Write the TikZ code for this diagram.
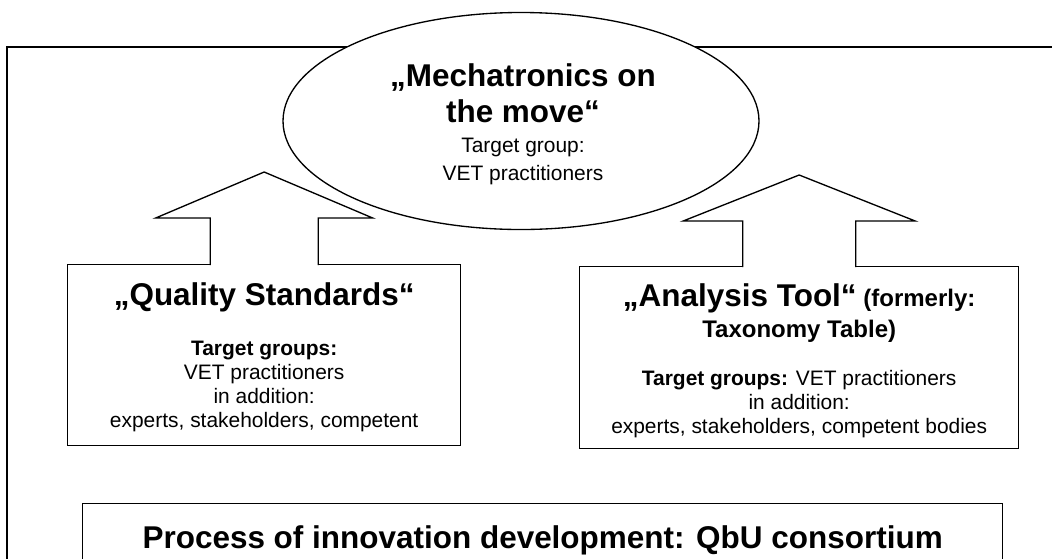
\documentclass[tikz,border=0pt]{standalone}
\usepackage{fontspec}
\setmainfont{Liberation Sans}
\usetikzlibrary{shapes.geometric,calc}
\tikzstyle{box}=[draw, line width=1pt, fill=white, inner sep=0pt]
\tikzstyle{bubble}=[ellipse, draw, line width=1pt, fill=white, inner sep=0pt]
\tikzstyle{liftarrow}=[draw, line width=1pt, fill=white]
\newcommand{\bigfont}{\fontsize{23.6}{27}\selectfont\bfseries}
\newcommand{\midfont}{\fontsize{18}{23}\selectfont\bfseries}
\newcommand{\smallfont}{\fontsize{15.7}{18}\selectfont}

\begin{document}
\begin{tikzpicture}[x=0.75pt,y=-0.75pt]
    \useasboundingbox (0,0) rectangle (1052,558);
    \clip (0,0) rectangle (1052,558);

    % Frame
    \draw[line width=1pt] (7,47) rectangle (1080,600);

    % Boxes
    \node[box, anchor=north west, minimum width=690pt, minimum height=60pt] (proc) at (82,503) {};
    \node[box, anchor=north west, minimum width=294.75pt, minimum height=135.75pt] (qs) at (67,264) {};
    \node[box, anchor=north west, minimum width=329.25pt, minimum height=136.5pt] (at) at (579,266) {};

    % Arrows
    \draw[liftarrow] ($(qs.north)+(-54,1)$) -- ++(0,-47) -- ++(-54.5,0) -- ($(qs.north)+(0,-92)$)
        -- ($(qs.north)+(108.5,-46)$) -- ++(-54.5,0) -- ($(qs.north)+(54,1)$);
    \draw[liftarrow] ($(at.north)+(-56.5,1)$) -- ++(0,-46) -- ++(-59.5,0) -- ($(at.north)+(0,-91)$)
        -- ($(at.north)+(116,-45)$) -- ++(-59.5,0) -- ($(at.north)+(56.5,1)$);

    % Ellipse
    \node[bubble, minimum width=357pt, minimum height=162.75pt] (mech) at (521,121) {};

    % Texts (base = last line)
    \node[anchor=base, align=center, font=\bigfont] (mechtitle) at (523,122) {„Mechatronics on\\the move“};
    \node[anchor=base, align=center, font=\smallfont] (mechgroup) at (523,180) {Target group:\\[3pt]VET practitioners};

    \node[anchor=base, font=\bigfont] (qstitle) at ($(qs.north)+(0,41)$) {„Quality Standards“};
    \node[anchor=base, align=center, font=\smallfont] (qsgroups) at ($(qs.north)+(0,163)$)
        {\textbf{Target groups:}\\VET practitioners\\in addition:\\experts, stakeholders, competent};

    \node[anchor=base, align=center, font=\midfont] (attitle) at ($(at.north)+(0,71)$)
        {{\bigfont „Analysis Tool“} (formerly:\\Taxonomy Table)};
    \node[anchor=base, align=center, font=\smallfont] (atgroups) at ($(at.north)+(0,167)$)
        {\textbf{Target groups:} VET practitioners\\in addition:\\experts, stakeholders, competent bodies};

    \node[anchor=base, font=\bigfont] (proctitle) at ($(proc.north)+(0,45)$) {Process of innovation development: QbU consortium};
\end{tikzpicture}
\end{document}
